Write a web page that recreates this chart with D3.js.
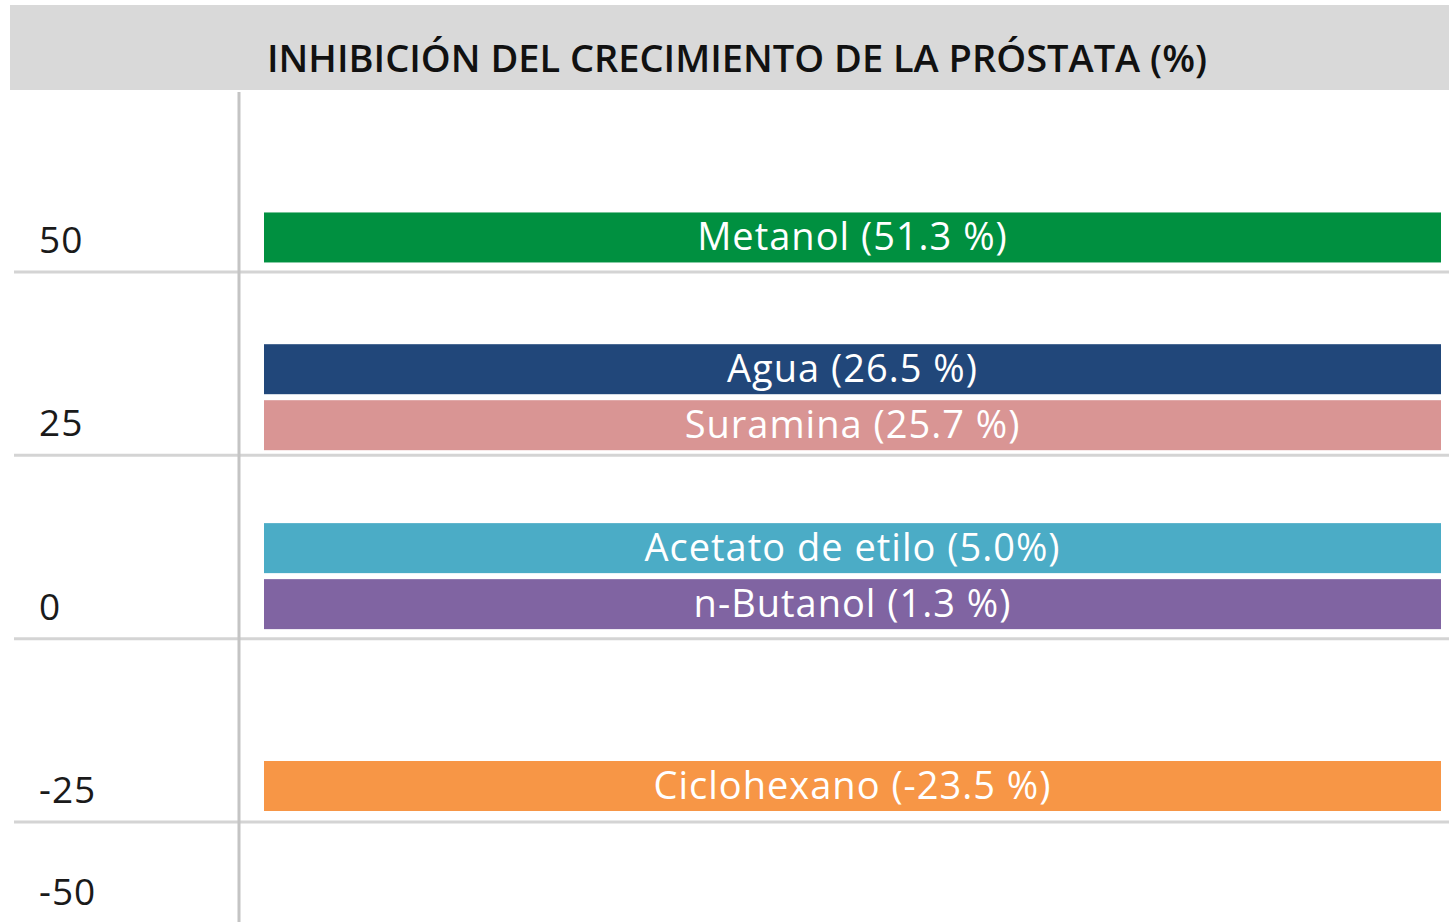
<!DOCTYPE html>
<meta charset="utf-8">
<style>
body { margin: 0; background: #fff; }
text { font-family: "Open Sans", "DejaVu Sans", sans-serif; }
.grid line { stroke: #d4d4d4; stroke-width: 3px; }
.tick-label { font-size: 37px; fill: #1a1a1a; letter-spacing: 1px; }
.bar-label { font-size: 38px; fill: #fff; letter-spacing: 1px; }
</style>
<svg width="1449" height="922"></svg>
<script src="https://cdn.jsdelivr.net/npm/d3@7"></script>
<script>

var title = "INHIBICIÓN DEL CRECIMIENTO DE LA PRÓSTATA (%)";

var extracts = ["Metanol", "Agua", "Suramina", "Acetato de etilo", "n-Butanol", "Ciclohexano"];
var values = [51.3, 26.5, 25.7, 5.0, 1.3, -23.5];
var valueText = ["51.3 %", "26.5 %", "25.7 %", "5.0%", "1.3 %", "-23.5 %"];
var colours = ["#009040", "#21477a", "#d99594", "#4bacc6", "#8064a2", "#f79646"];

var ticks = [50, 25, 0, -25, -50];

var svg = d3.select("svg"),
    width = +svg.attr("width"),
    height = +svg.attr("height");

// header band
svg.append("rect")
    .attr("x", 10).attr("y", 5)
    .attr("width", width - 10).attr("height", 85)
    .attr("fill", "#d9d9d9");

svg.append("text")
    .attr("x", 737).attr("y", 72)
    .attr("text-anchor", "middle")
    .style("font-size", "38px")
    .style("font-weight", 600)
    .style("fill", "#111")
    .text(title);

// value scale (50 -> 272, 0 -> 639)
var y = d3.scaleLinear()
    .domain([50, -25])
    .range([272, 822]);

var x0 = 239, barLeft = 264, barRight = 1441, barH = 50, gap = 6;

// gridlines
var grid = svg.append("g").attr("class", "grid");
grid.selectAll("line")
    .data(ticks.filter(function(d) { return d > -50; }))
    .enter().append("line")
    .attr("x1", 14).attr("x2", width)
    .attr("y1", function(d) { return y(d); })
    .attr("y2", function(d) { return y(d); });

// vertical axis line
svg.append("line")
    .attr("x1", x0).attr("x2", x0)
    .attr("y1", 92).attr("y2", height)
    .style("stroke", "#c4c4c4")
    .style("stroke-width", 3);

// tick labels sit above their gridline (-50 falls below the picture, so pull it up)
svg.selectAll(".tick-label")
    .data(ticks)
    .enter().append("text")
    .attr("class", "tick-label")
    .attr("x", 39)
    .attr("y", function(d) { return d == -50 ? y(-25) + 83 : y(d) - 19; })
    .text(function(d) { return d; });

// bars: bottom edge at y(value), pushed up when they would overlap the bar below
var bars = values.map(function(v, i) {
  return { name: extracts[i], value: v, label: valueText[i], colour: colours[i], bottom: y(v) };
});
for (var i = bars.length - 2; i >= 0; i--) {
  var limit = bars[i + 1].bottom - barH - gap;
  if (bars[i].bottom > limit) bars[i].bottom = limit;
}

var bar = svg.append("g").selectAll("g")
    .data(bars)
    .enter().append("g");

bar.append("rect")
    .attr("x", barLeft)
    .attr("y", function(d) { return d.bottom - barH; })
    .attr("width", barRight - barLeft)
    .attr("height", barH)
    .attr("fill", function(d) { return d.colour; });

bar.append("text")
    .attr("class", "bar-label")
    .attr("x", (barLeft + barRight) / 2)
    .attr("y", function(d) { return d.bottom - barH / 2 + 13; })
    .attr("text-anchor", "middle")
    .text(function(d) { return d.name + " (" + d.label + ")"; });

</script>
